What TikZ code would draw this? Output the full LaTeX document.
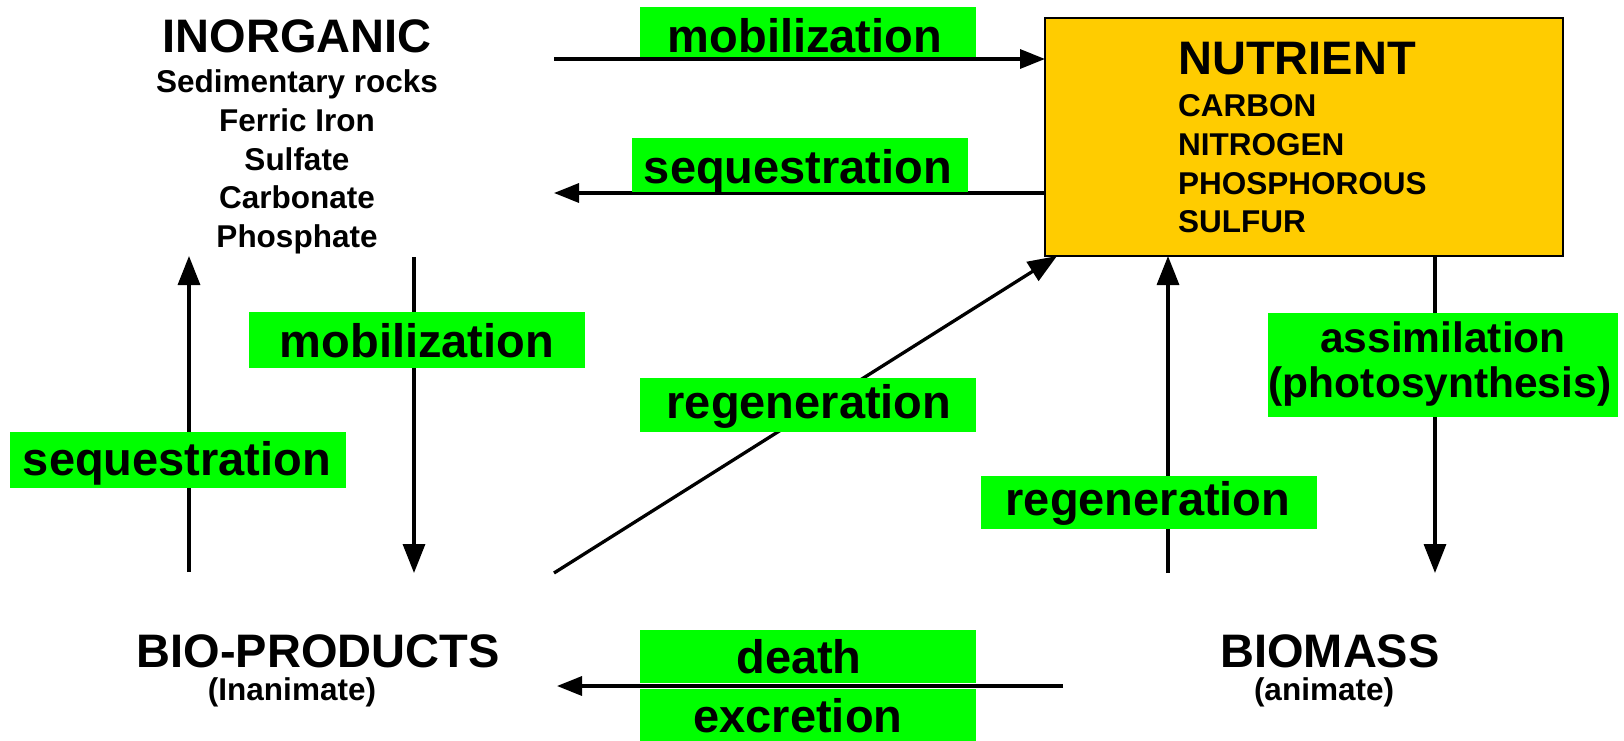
\documentclass[tikz,border=0pt]{standalone}
\usepackage{fontspec}
\setmainfont{Liberation Sans}
\usetikzlibrary{arrows.meta}
\definecolor{labelgreen}{RGB}{0,255,0}
\definecolor{nutorange}{RGB}{255,204,0}

\begin{document}
\begin{tikzpicture}[x=1pt,y=-1pt,
  big/.style={font=\fontsize{47}{50}\selectfont\bfseries, inner sep=0pt, anchor=base},
  small/.style={font=\fontsize{31.5}{36}\selectfont\bfseries, inner sep=0pt, anchor=base},
  smallleft/.style={small, anchor=base west},
  gbox/.style={fill=labelgreen, inner sep=0pt, outer sep=0pt},
  gtxt/.style={font=\fontsize{47}{50}\selectfont\bfseries, inner sep=0pt, anchor=base},
  gtxtsm/.style={font=\fontsize{42.5}{45}\selectfont\bfseries, inner sep=0pt, anchor=base},
  flow/.style={line width=3.3pt},
  vtip/.style={flow, -{Triangle[length=29pt,width=22pt]}},
  htip/.style={flow, -{Triangle[length=25pt,width=19pt]}},
]
\useasboundingbox (0,0) rectangle (1624,741);

% nutrient pool
\node[draw, fill=nutorange, line width=2.5pt, minimum width=518pt,
      minimum height=238pt, inner sep=0pt, outer sep=0pt] (nut) at (1304,137) {};
\node[big, anchor=base west] (nuttitle) at (1178,75) {NUTRIENT};
\node[smallleft] (carbon) at (1178,117) {CARBON};
\node[smallleft] (nitrogen) at (1178,155) {NITROGEN};
\node[smallleft] (phos) at (1178,194) {PHOSPHOROUS};
\node[smallleft] (sulfur) at (1178,232) {SULFUR};

% inorganic pool
\node[big] (inorg) at (297,53) {INORGANIC};
\node[small] (sed) at (297,93) {Sedimentary rocks};
\node[small] (ferric) at (297,131.5) {Ferric Iron};
\node[small] (sulfate) at (297,170) {Sulfate};
\node[small] (carbonate) at (297,208.5) {Carbonate};
\node[small] (phosphate) at (297,247) {Phosphate};

% bio-products and biomass
\node[big] (bioprod) at (318,667) {BIO-PRODUCTS};
\node[small] (inanim) at (292,700) {(Inanimate)};
\node[big] (biomass) at (1330,667) {BIOMASS};
\node[small] (anim) at (1324,700) {(animate)};

% free ends of the connectors
\coordinate (mobTopS) at (554,59);
\coordinate (seqTopE) at (554,193);
\coordinate (seqLS) at (189,572);
\coordinate (seqLE) at (189,256);
\coordinate (mobLS) at (414,257);
\coordinate (mobLE) at (414,573);
\coordinate (diagS) at (554,573);
\coordinate (diagE) at (1057,256);
\coordinate (regS) at (1168,573);
\coordinate (assE) at (1435,573);
\coordinate (deathS) at (1063,686);
\coordinate (deathE) at (557,686);

% connectors
\draw[htip] (mobTopS) -- (mobTopS -| nut.west);
\draw[htip] (seqTopE -| nut.west) -- (seqTopE);
\draw[vtip] (seqLS) -- (seqLE);
\draw[vtip] (mobLS) -- (mobLE);
\draw[vtip] (diagS) -- (diagE);
\draw[vtip] (regS) -- (regS |- nut.south);
\draw[vtip] (assE |- nut.south) -- (assE);
\draw[htip] (deathS) -- (deathE);

% green labels
\node[gbox, minimum width=336pt, minimum height=50pt] (gMobTop) at (808,32) {};
\node[gtxt] (tMobTop) at (805,53) {mobilization};
\node[gbox, minimum width=336pt, minimum height=54pt] (gSeqTop) at (800,165) {};
\node[gtxt] (tSeqTop) at (798,183) {sequestration};
\node[gbox, minimum width=336pt, minimum height=56pt] (gMobL) at (417,340) {};
\node[gtxt] (tMobL) at (417,357) {mobilization};
\node[gbox, minimum width=336pt, minimum height=56pt] (gSeqL) at (178,460) {};
\node[gtxt] (tSeqL) at (177,475) {sequestration};
\node[gbox, minimum width=336pt, minimum height=54pt] (gRegD) at (808,405) {};
\node[gtxt] (tRegD) at (809,418) {regeneration};
\node[gbox, minimum width=336pt, minimum height=53pt] (gRegR) at (1149,502.5) {};
\node[gtxt] (tRegR) at (1148,515) {regeneration};
\node[gbox, minimum width=350pt, minimum height=104pt] (gAss) at (1443,365) {};
\node[gtxtsm] (tAss) at (1443,352) {assimilation};
\node[gtxtsm] (tPhoto) at (1440,397) {(photosynthesis)};
\node[gbox, minimum width=336pt, minimum height=53pt] (gDeath) at (808,656.5) {};
\node[gtxt] (tDeath) at (799,673) {death};
\node[gbox, minimum width=336pt, minimum height=52pt] (gExcr) at (808,715) {};
\node[gtxt] (tExcr) at (798,732) {excretion};
\end{tikzpicture}
\end{document}
